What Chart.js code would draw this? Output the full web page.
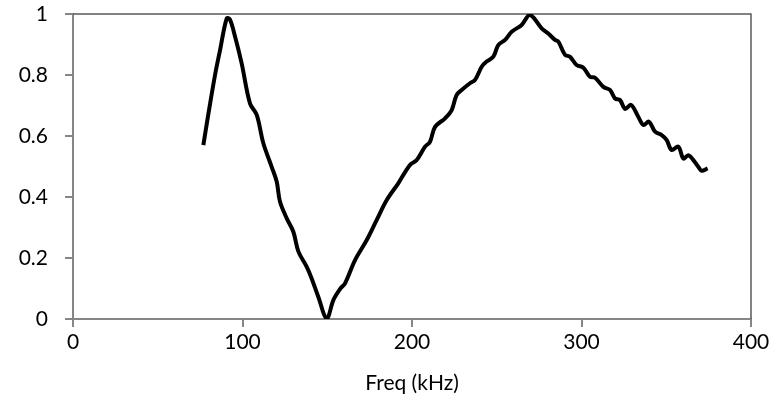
<!DOCTYPE html>
<html>
<head>
<meta charset="utf-8">
<script src="https://cdn.jsdelivr.net/npm/chart.js@4.4.1/dist/chart.umd.min.js"></script>
<style>
  html, body { margin: 0; padding: 0; background: #fff; }
  #wrap { width: 775px; height: 406px; }
</style>
</head>
<body>
<div id="wrap"><canvas id="myChart" width="775" height="406"></canvas></div>
<script>
// Frequency sweep (kHz) and normalised response
const freq = [
  76.9, 79.8, 83.8, 86.7, 90.7, 92.6, 95.6, 99.5, 104.4, 108.4,
  112.3, 117.2, 120.2, 122.1, 126.1, 130.0, 133.0, 137.9, 140.8, 144.7,
  149.7, 153.6, 157.5, 160.5, 166.4, 173.3, 179.2, 185.1, 191.9, 198.8,
  202.8, 207.7, 210.6, 213.6, 219.5, 223.4, 226.3, 229.3, 234.2, 237.2,
  241.1, 244.0, 248.0, 250.9, 254.9, 258.8, 264.7, 269.6, 276.5, 280.4,
  284.4, 286.4, 290.3, 293.2, 297.1, 301.1, 305.0, 308.0, 312.9, 316.8,
  319.8, 322.7, 325.7, 329.2, 333.5, 336.5, 339.8, 343.4, 347.3, 350.2,
  353.2, 357.1, 360.1, 363.0, 366.0, 368.9, 370.9, 374.4
];
const amplitude = [
  0.570, 0.670, 0.800, 0.880, 0.986, 0.982, 0.926, 0.838, 0.707, 0.669,
  0.576, 0.499, 0.450, 0.385, 0.330, 0.286, 0.221, 0.171, 0.133, 0.073,
  0.002, 0.062, 0.098, 0.117, 0.193, 0.259, 0.325, 0.390, 0.445, 0.505,
  0.521, 0.565, 0.581, 0.630, 0.658, 0.685, 0.734, 0.751, 0.773, 0.784,
  0.827, 0.844, 0.860, 0.898, 0.915, 0.942, 0.964, 0.997, 0.953, 0.936,
  0.915, 0.909, 0.866, 0.860, 0.833, 0.824, 0.794, 0.791, 0.761, 0.751,
  0.723, 0.718, 0.689, 0.702, 0.663, 0.636, 0.647, 0.614, 0.603, 0.587,
  0.554, 0.565, 0.526, 0.537, 0.521, 0.499, 0.486, 0.494
];
const xTicks = [0, 100, 200, 300, 400];
const yTicks = [0, 0.2, 0.4, 0.6, 0.8, 1];

const points = freq.map((f, i) => ({ x: f, y: amplitude[i] }));

const axisGrey = '#868686';
const fontSpec = { family: 'Lato, "Liberation Sans", sans-serif', size: 21 };

// dark frame on the top and right of the plot area
const frame = {
  id: 'frame',
  beforeDatasetsDraw(chart) {
    const { ctx, chartArea: a } = chart;
    ctx.save();
    ctx.strokeStyle = '#595959';
    ctx.lineWidth = 1.5;
    ctx.beginPath();
    ctx.moveTo(a.left, a.top);
    ctx.lineTo(a.right, a.top);
    ctx.lineTo(a.right, a.bottom);
    ctx.stroke();
    ctx.restore();
  }
};

const ctx = document.getElementById('myChart').getContext('2d');
const myChart = new Chart(ctx, {
  type: 'line',
  data: {
    datasets: [{
      data: points,
      borderColor: '#000',
      borderWidth: 4,
      pointRadius: 0,
      tension: 0.35,
      fill: false
    }]
  },
  options: {
    responsive: false,
    animation: false,
    layout: { padding: { top: 14, right: 24, left: 0, bottom: 0 } },
    plugins: { legend: { display: false }, tooltip: { enabled: false } },
    scales: {
      x: {
        type: 'linear',
        min: 0,
        max: 400,
        afterBuildTicks: s => { s.ticks = xTicks.map(v => ({ value: v })); },
        afterFit: s => { s.height = 87; s.paddingLeft = 0; s.paddingRight = 0; },
        ticks: { color: '#000', font: fontSpec, padding: 3, maxRotation: 0 },
        grid: { drawOnChartArea: false, color: axisGrey, lineWidth: 2, tickLength: 8 },
        border: { color: axisGrey, width: 2 },
        title: { display: true, text: 'Freq (kHz)', color: '#000', font: fontSpec, padding: { top: 0, bottom: 10 } }
      },
      y: {
        min: 0,
        max: 1,
        afterBuildTicks: s => { s.ticks = yTicks.map(v => ({ value: v })); },
        afterFit: s => { s.width = 73; s.paddingTop = 0; s.paddingBottom = 0; },
        ticks: { color: '#000', font: fontSpec, padding: 17, callback: v => String(v) },
        grid: { drawOnChartArea: false, color: axisGrey, lineWidth: 2, tickLength: 8 },
        border: { color: axisGrey, width: 2 }
      }
    }
  },
  plugins: [frame]
});
</script>
</body>
</html>
